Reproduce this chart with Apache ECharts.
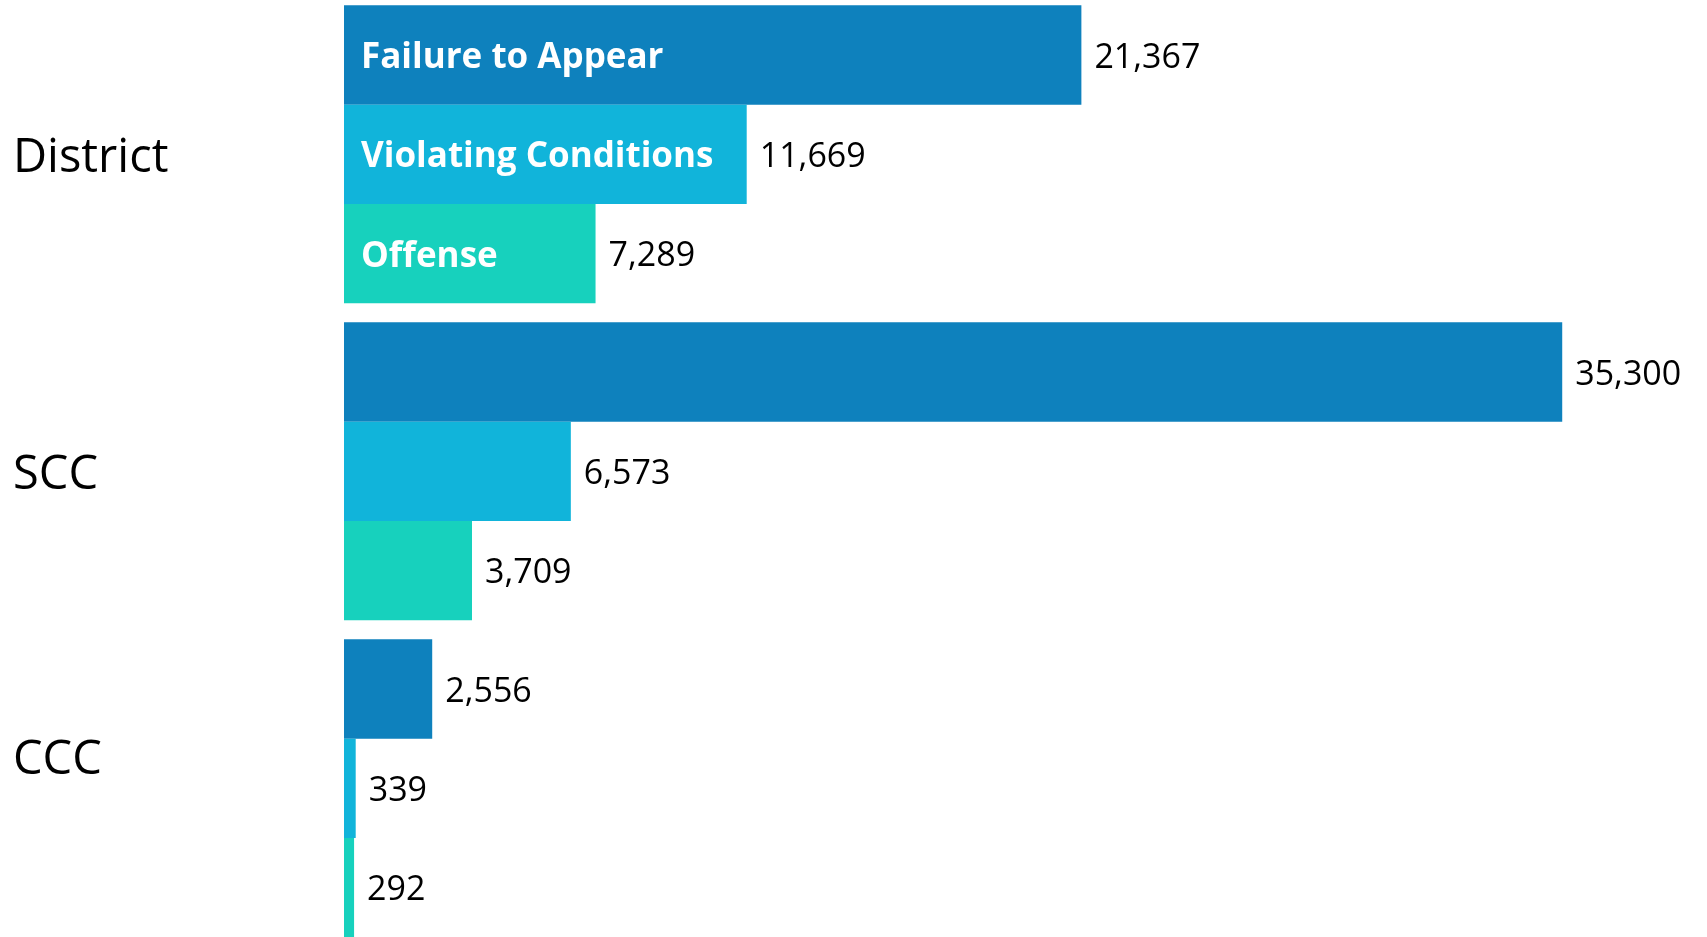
<!DOCTYPE html>
<html>
<head>
<meta charset="utf-8">
<title>Court Cases by Type</title>
<script src="https://cdn.jsdelivr.net/npm/echarts@6/dist/echarts.min.js"></script>
<style>
  html, body { margin: 0; padding: 0; background: #fff; }
  #chart { width: 1707px; height: 937px; }
</style>
</head>
<body>
<div id="chart"></div>
<script>
// data
const courts = ['District', 'SCC', 'CCC']
const seriesNames = ['Failure to Appear', 'Violating Conditions', 'Offense']
const failureToAppear = [21367, 35300, 2556]
const violatingConditions = [11669, 6573, 339]
const offense = [7289, 3709, 292]

const colors = ['#0E81BD', '#11B4DA', '#17D1BD']
const FONT = '"Open Sans", "Noto Sans", sans-serif'

const values = [failureToAppear, violatingConditions, offense]

const fmt = v => Number(v).toLocaleString('en-US')

// value bars with the number to the right
const valueSeries = values.map((data, i) => ({
    name: seriesNames[i],
    type: 'bar',
    yAxisIndex: 0,
    data,
    barGap: 0,
    barCategoryGap: '6%',
    itemStyle: { color: colors[i] },
    label: {
        show: true,
        position: 'right',
        distance: 13,
        offset: [0, 3],
        formatter: p => fmt(p.value),
        color: '#000',
        fontFamily: FONT,
        fontSize: 34,
    },
}))

// same bars laid out on a twin axis, only used to write the series name inside the District bars
const nameSeries = values.map((data, i) => ({
    name: seriesNames[i] + ' label',
    type: 'bar',
    yAxisIndex: 1,
    silent: true,
    data,
    barGap: 0,
    barCategoryGap: '6%',
    itemStyle: { color: 'transparent' },
    label: {
        show: true,
        position: 'insideLeft',
        distance: 17,
        offset: [0, 3],
        formatter: p => (p.dataIndex === 0 ? seriesNames[i] : ''),
        color: '#fff',
        fontFamily: FONT,
        fontWeight: 'bold',
        fontSize: 35,
    },
}))

const chart = echarts.init(document.getElementById('chart'), null, { renderer: 'canvas' })

const courtStyle = { color: '#000', fontFamily: FONT, fontSize: 47 }

chart.setOption({
    animation: false,
    backgroundColor: '#fff',
    grid: {
        left: 344, right: 51.6, top: -4.2, bottom: -9.8,
        containLabel: false,
        outerBoundsMode: 'none',
    },
    xAxis: {
        type: 'value',
        min: 0,
        max: 38000,
        show: false,
    },
    yAxis: [
        {
            type: 'category',
            inverse: true,
            data: courts,
            axisLine: { show: false },
            axisTick: { show: false },
            splitLine: { show: false },
            axisLabel: {
                align: 'left',
                margin: 331,
                ...courtStyle,
                // CCC sits a little above the middle of its bars
                formatter: v => (v === 'CCC' ? '{up|' + v + '}' : '{mid|' + v + '}'),
                rich: {
                    mid: { ...courtStyle, padding: [8, 0, 0, 0] },
                    up: { ...courtStyle, padding: [0, 0, 55, 0] },
                },
            },
        },
        {
            type: 'category',
            inverse: true,
            data: courts,
            show: false,
        },
    ],
    series: [...valueSeries, ...nameSeries],
})
</script>
</body>
</html>
